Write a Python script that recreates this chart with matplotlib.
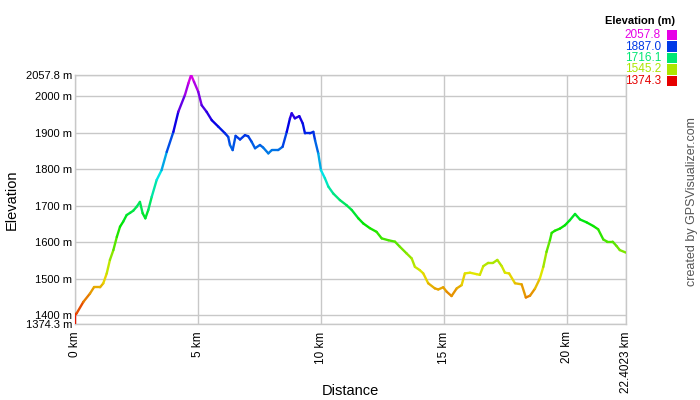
import numpy as np
import matplotlib
matplotlib.use('Agg')
import matplotlib.pyplot as plt
from matplotlib.collections import LineCollection
from matplotlib.colors import hsv_to_rgb
from matplotlib.patches import Rectangle

plt.rcParams['font.family'] = ['Liberation Sans', 'DejaVu Sans']

# track profile
dist_km = [0.0, 0.0, 0.07, 0.34, 0.61, 0.77, 1.02, 1.15, 1.29, 1.42, 1.56, 1.70, 1.83,
           1.96, 2.10, 2.24, 2.37, 2.51, 2.64, 2.75, 2.86, 2.98, 3.12, 3.32, 3.52, 3.73,
           4.00, 4.20, 4.47, 4.61, 4.72, 4.84, 5.01, 5.15, 5.35, 5.56, 5.83, 6.10, 6.23,
           6.30, 6.41, 6.53, 6.71, 6.91, 7.04, 7.18, 7.32, 7.52, 7.65, 7.86, 8.00, 8.26,
           8.44, 8.61, 8.74, 8.81, 8.94, 9.12, 9.26, 9.35, 9.55, 9.69, 9.76, 9.89, 10.00,
           10.16, 10.30, 10.50, 10.77, 11.04, 11.25, 11.52, 11.72, 11.99, 12.26, 12.47,
           12.74, 13.01, 13.21, 13.48, 13.69, 13.82, 14.02, 14.16, 14.36, 14.63, 14.77,
           14.97, 15.11, 15.31, 15.52, 15.72, 15.85, 16.06, 16.33, 16.46, 16.60, 16.80,
           17.00, 17.17, 17.35, 17.48, 17.65, 17.89, 18.16, 18.33, 18.50, 18.70, 18.90,
           19.04, 19.17, 19.31, 19.38, 19.51, 19.72, 19.92, 20.12, 20.33, 20.53, 20.80,
           21.07, 21.27, 21.48, 21.64, 21.86, 22.02, 22.15, 22.4023]
elev_m = [1374.3, 1400, 1405, 1436, 1459, 1476, 1476, 1487, 1514, 1551, 1578, 1614, 1642,
          1656, 1674, 1680, 1686, 1697, 1710, 1679, 1665, 1688, 1724, 1770, 1797, 1847,
          1902, 1957, 2003, 2035, 2057.8, 2039, 2012, 1975, 1957, 1934, 1916, 1898, 1888,
          1866, 1852, 1891, 1881, 1893, 1890, 1875, 1857, 1866, 1859, 1843, 1852, 1852,
          1861, 1902, 1939, 1953, 1939, 1945, 1925, 1898, 1898, 1902, 1879, 1843, 1797,
          1775, 1752, 1733, 1715, 1701, 1688, 1665, 1651, 1638, 1628, 1610,
          1605, 1601, 1587, 1569, 1555, 1532, 1523, 1514, 1487, 1473, 1470,
          1476, 1464, 1452, 1473, 1482, 1514, 1516, 1512, 1510, 1534, 1543,
          1543, 1551, 1534, 1516, 1514, 1487, 1484, 1448, 1453, 1472, 1500,
          1532, 1573, 1605, 1625, 1631, 1637, 1646, 1660, 1677, 1662, 1654,
          1644, 1635, 1607, 1601, 1601, 1589, 1578, 1571]

elev_min = 1374.3
elev_max = 2057.8
total_km = 22.4023

x_ticks = [0, 5, 10, 15, 20, total_km]
x_labels = ['0 km', '5 km', '10 km', '15 km', '20 km', '22.4023 km']
y_ticks = [elev_min, 1400, 1500, 1600, 1700, 1800, 1900, 2000, elev_max]
y_labels = ['1374.3 m', '1400 m', '1500 m', '1600 m', '1700 m', '1800 m', '1900 m',
            '2000 m', '2057.8 m']

legend_vals = [2057.8, 1887.0, 1716.1, 1545.2, 1374.3]


def elev_color(e):
    frac = (e - elev_min) / (elev_max - elev_min)
    return hsv_to_rgb((frac * 300 / 360, 1.0, 0.9))


fig = plt.figure(figsize=(7, 4), dpi=100)
ax = fig.add_axes([75 / 700, 1 - 324.4 / 400, 551 / 700, 249.4 / 400])

pts = np.column_stack([dist_km, elev_m])
segs = np.stack([pts[:-1], pts[1:]], axis=1)
cols = [elev_color((a + b) / 2) for a, b in zip(elev_m[:-1], elev_m[1:])]
lc = LineCollection(segs, colors=cols, linewidths=1.7, capstyle='round', zorder=3)
ax.add_collection(lc)

ax.set_xlim(0, total_km)
ax.set_ylim(elev_min, elev_max)
ax.set_xticks(x_ticks)
ax.set_xticklabels(x_labels, rotation=90, fontsize=8.5)
ax.set_yticks(y_ticks)
ax.set_yticklabels(y_labels, fontsize=8)
ax.tick_params(axis='x', length=0, pad=5)
ax.tick_params(axis='y', length=0, pad=2)
ax.grid(True, color='#c8c8c8', linewidth=1.0)
for s in ax.spines.values():
    s.set_color('#c8c8c8')
    s.set_linewidth(1.0)

fig.text(12 / 700, 1 - 200 / 400, 'Elevation', rotation=90, ha='center', va='center',
         fontsize=10.5)
fig.text(350 / 700, 1 - 391 / 400, 'Distance', ha='center', va='center', fontsize=10.5)
fig.text(692 / 700, 1 - 202 / 400, 'created by GPSVisualizer.com', rotation=90,
         ha='center', va='center', fontsize=9, color='#555555')

# legend
fig.text(675 / 700, 1 - 21 / 400, 'Elevation (m)', ha='right', va='center',
         fontsize=8, fontweight='bold')
for i, v in enumerate(legend_vals):
    yc = 35 + i * 11.5
    c = elev_color(v)
    fig.text(661 / 700, 1 - yc / 400, f'{v:.1f}', ha='right', va='center',
             fontsize=8.5, color=c)
    fig.patches.append(Rectangle((667 / 700, 1 - (yc + 5) / 400), 10 / 700, 10 / 400,
                                 transform=fig.transFigure, facecolor=c,
                                 edgecolor='none'))

fig.savefig('out.png', dpi=100)
